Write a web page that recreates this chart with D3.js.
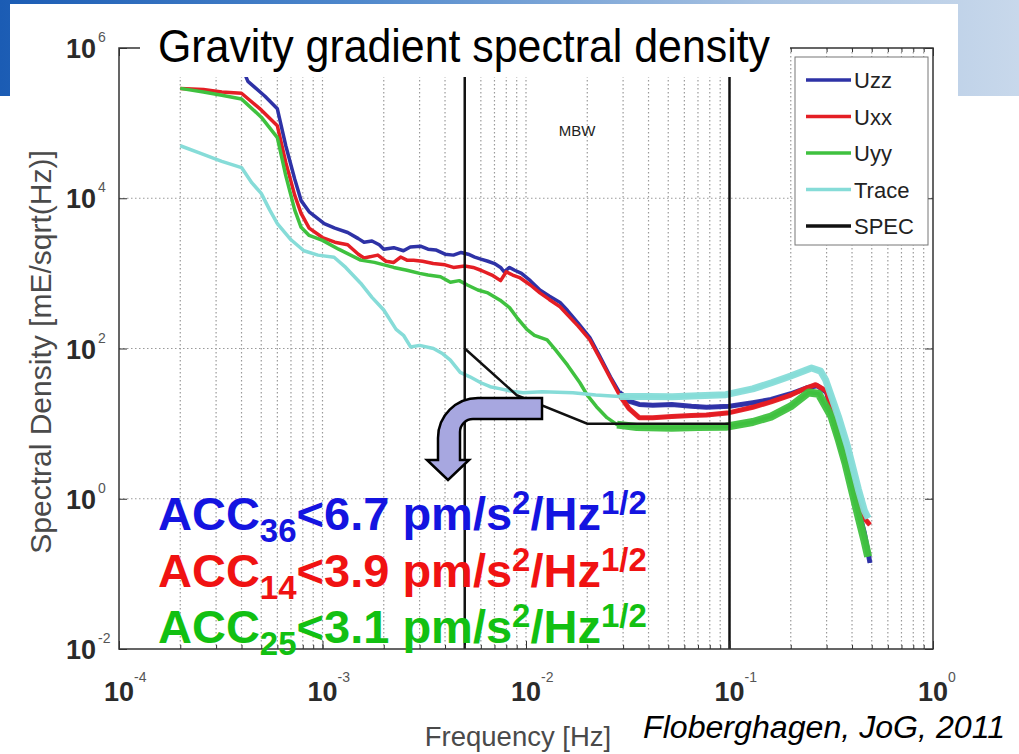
<!DOCTYPE html>
<html>
<head>
<meta charset="utf-8">
<script src="https://cdn.jsdelivr.net/npm/d3@7"></script>
<style>
  body { margin: 0; background: #fff; }
  svg { display: block; }
</style>
</head>
<body>
<svg id="chart" width="1019" height="754"></svg>
<script>
// values: [frequency Hz, spectral density mE/sqrt(Hz)]
const seriesNames = ["Uzz", "Uxx", "Uyy", "Trace", "SPEC"];
const seriesColors = ["#2e32a6", "#e41e24", "#3fc13f", "#86dcd8", "#111111"];

const uzz = [
  [3.9e-4, 6.7e5], [4.3e-4, 3.6e5], [5.2e-4, 2.3e5], [6.0e-4, 1.55e5], [6.6e-4, 5.0e4],
  [7.3e-4, 1.8e4], [7.85e-4, 9.3e3], [8.6e-4, 6.6e3], [1.02e-3, 4.6e3], [1.15e-3, 4.0e3],
  [1.33e-3, 3.5e3], [1.5e-3, 2.9e3], [1.6e-3, 2.6e3], [1.75e-3, 2.7e3], [1.9e-3, 2.4e3],
  [2.0e-3, 2.1e3], [2.24e-3, 2.2e3], [2.5e-3, 2.0e3], [2.7e-3, 2.25e3], [3.03e-3, 2.3e3],
  [3.3e-3, 2.1e3], [3.6e-3, 2.05e3], [4.0e-3, 1.8e3], [4.4e-3, 1.75e3], [4.8e-3, 1.9e3],
  [5.2e-3, 1.8e3], [5.6e-3, 1.65e3], [6.0e-3, 1.55e3], [6.5e-3, 1.45e3], [7.0e-3, 1.35e3],
  [7.5e-3, 1.2e3], [7.8e-3, 1.05e3], [8.3e-3, 1.2e3], [8.8e-3, 1.1e3], [9.5e-3, 1.0e3],
  [1.05e-2, 8.0e2], [1.17e-2, 6.0e2], [1.3e-2, 5.0e2], [1.47e-2, 4.1e2], [1.6e-2, 3.2e2],
  [1.8e-2, 2.2e2], [2.06e-2, 1.4e2], [2.3e-2, 80], [2.6e-2, 42], [2.88e-2, 26],
  [3.2e-2, 20], [3.6e-2, 18], [4.2e-2, 17.5], [5.2e-2, 18], [6.5e-2, 17],
  [7.7e-2, 16.5], [0.1, 17], [0.13, 19], [0.16, 21], [0.2, 25],
  [0.24, 30], [0.27, 32], [0.3, 26], [0.34, 7], [0.38, 2.5],
  [0.42, 0.9], [0.46, 0.35], [0.49, 0.14]
];

const uxx = [
  [2.0e-4, 2.9e5], [2.6e-4, 2.8e5], [3.2e-4, 2.6e5], [4.0e-4, 2.5e5], [5.0e-4, 1.5e5],
  [6.0e-4, 9.2e4], [6.6e-4, 3.0e4], [7.3e-4, 1.1e4], [7.85e-4, 6.3e3], [8.6e-4, 4.0e3],
  [1.0e-3, 3.0e3], [1.15e-3, 2.6e3], [1.33e-3, 2.4e3], [1.5e-3, 1.8e3], [1.6e-3, 1.6e3],
  [1.87e-3, 1.75e3], [2.05e-3, 1.45e3], [2.24e-3, 1.4e3], [2.42e-3, 1.65e3], [2.6e-3, 1.5e3],
  [2.8e-3, 1.5e3], [3.1e-3, 1.45e3], [3.5e-3, 1.35e3], [4.0e-3, 1.3e3], [4.4e-3, 1.2e3],
  [5.0e-3, 1.25e3], [5.5e-3, 1.2e3], [6.0e-3, 1.1e3], [6.8e-3, 9.5e2], [7.5e-3, 8.0e2],
  [8.0e-3, 1.05e3], [8.6e-3, 9.5e2], [9.3e-3, 8.8e2], [1.05e-2, 7.0e2], [1.17e-2, 5.5e2],
  [1.3e-2, 4.5e2], [1.47e-2, 3.6e2], [1.6e-2, 2.8e2], [1.8e-2, 2.0e2], [2.06e-2, 1.3e2],
  [2.3e-2, 75], [2.6e-2, 40], [2.88e-2, 24], [3.2e-2, 16], [3.6e-2, 12],
  [4.2e-2, 12], [5.2e-2, 12.4], [6.5e-2, 12.8], [7.7e-2, 13], [0.1, 14],
  [0.13, 16.5], [0.16, 19.5], [0.2, 24], [0.24, 30], [0.265, 33],
  [0.3, 27], [0.34, 7], [0.38, 2.5], [0.42, 1.0], [0.46, 0.55], [0.49, 0.45]
];

const uyy = [
  [2.0e-4, 2.9e5], [2.6e-4, 2.6e5], [3.2e-4, 2.35e5], [4.0e-4, 2.1e5], [5.0e-4, 1.2e5],
  [6.0e-4, 6.4e4], [6.6e-4, 2.0e4], [7.3e-4, 7.0e3], [7.85e-4, 4.1e3], [8.6e-4, 3.2e3],
  [1.0e-3, 2.75e3], [1.2e-3, 2.1e3], [1.54e-3, 1.5e3], [1.8e-3, 1.4e3], [2.24e-3, 1.2e3],
  [2.6e-3, 1.1e3], [3.0e-3, 1.0e3], [3.3e-3, 9.5e2], [3.8e-3, 9.0e2], [4.25e-3, 7.6e2],
  [4.7e-3, 8.0e2], [5.15e-3, 7.0e2], [5.8e-3, 6.0e2], [6.5e-3, 5.5e2], [7.46e-3, 4.4e2],
  [8.3e-3, 3.5e2], [9.0e-3, 2.6e2], [1.01e-2, 1.8e2], [1.1e-2, 1.5e2], [1.27e-2, 1.3e2],
  [1.4e-2, 95], [1.6e-2, 60], [1.84e-2, 35], [2.0e-2, 24], [2.22e-2, 16.8],
  [2.5e-2, 12], [2.8e-2, 9.7], [3.5e-2, 9.0], [5.2e-2, 8.8], [7.0e-2, 9.0],
  [9.6e-2, 9.1], [0.13, 10.5], [0.16, 12.4], [0.2, 17], [0.245, 26],
  [0.274, 25], [0.317, 12.4], [0.345, 6], [0.371, 3.0], [0.4, 1.3],
  [0.43, 0.58], [0.46, 0.28], [0.48, 0.17]
];

const trace = [
  [2.0e-4, 5.0e4], [2.5e-4, 4.0e4], [3.2e-4, 3.1e4], [4.0e-4, 2.56e4], [4.5e-4, 1.6e4],
  [5.0e-4, 1.16e4], [5.5e-4, 7.0e3], [6.0e-4, 4.6e3], [7.0e-4, 2.8e3], [8.1e-4, 2.0e3],
  [9.5e-4, 1.75e3], [1.14e-3, 1.64e3], [1.3e-3, 1.2e3], [1.54e-3, 7.4e2], [1.75e-3, 4.8e2],
  [2.0e-3, 3.25e2], [2.3e-3, 1.8e2], [2.5e-3, 1.5e2], [2.71e-3, 1.05e2], [3.0e-3, 1.1e2],
  [3.51e-3, 1.0e2], [3.9e-3, 85], [4.25e-3, 70], [4.75e-3, 48], [5.3e-3, 42],
  [6.0e-3, 35], [6.67e-3, 31], [7.5e-3, 29], [8.5e-3, 27], [9.67e-3, 25.8],
  [1.2e-2, 26.5], [1.7e-2, 25.8], [2.2e-2, 24], [2.88e-2, 23], [4.0e-2, 23],
  [5.23e-2, 22.8], [7.0e-2, 23.5], [9.6e-2, 24.3], [0.13, 29], [0.161, 35],
  [0.2, 43], [0.253, 55], [0.28, 50], [0.297, 38], [0.343, 12.4],
  [0.38, 5], [0.43, 1.33], [0.46, 0.7], [0.48, 0.55]
];

const spec = [[5e-3, 100], [9.0e-3, 24], [2.0e-2, 10], [0.1, 10]];

const mbwEdges = [5e-3, 1e-1];
const xTicks = [1e-4, 1e-3, 1e-2, 1e-1, 1];
const xTickExp = ["-4", "-3", "-2", "-1", "0"];
const yTicks = [1e-2, 1e0, 1e2, 1e4, 1e6];
const yTickExp = ["-2", "0", "2", "4", "6"];

const accIds = ["36", "14", "25"];
const accLimits = ["6.7", "3.9", "3.1"];
const accColors = ["#1414e0", "#f01212", "#12c012"];

// ---------------------------------------------------------------
const W = 1019, H = 754;
const svg = d3.select("#chart");
const sans = "'Liberation Sans', Arial, Helvetica, sans-serif";

const x = d3.scaleLog().domain([1e-4, 1]).range([119, 933]);
const y = d3.scaleLog().domain([1e-2, 1e6]).range([649, 48]);
const [x0, x1] = x.range();
const [yb, yt] = y.range();

// slide background: blue header band, white figure on top
const defs = svg.append("defs");
const grad = defs.append("linearGradient").attr("id", "band");
grad.append("stop").attr("offset", "0%").attr("stop-color", "#1b5cb4");
grad.append("stop").attr("offset", "35%").attr("stop-color", "#4f88cc");
grad.append("stop").attr("offset", "75%").attr("stop-color", "#a9c3e2");
grad.append("stop").attr("offset", "100%").attr("stop-color", "#c8d8eb");
defs.append("clipPath").attr("id", "clip")
  .append("rect").attr("x", x0).attr("y", yt).attr("width", x1 - x0).attr("height", yb - yt);

svg.append("rect").attr("width", W).attr("height", 96).attr("fill", "url(#band)");
svg.append("rect").attr("x", 10).attr("y", 4).attr("width", 948).attr("height", H).attr("fill", "#fff");
svg.append("rect").attr("x", 0).attr("y", 96).attr("width", W).attr("height", H - 96).attr("fill", "#fff");

// dotted grid
const grid = svg.append("g").attr("stroke", "#9a9a9a").attr("stroke-width", 1.2)
  .attr("stroke-dasharray", "1.5,2.5");
grid.selectAll("line.v")
  .data(x.ticks().filter(d => d > 1e-4 && d < 1))
  .join("line").attr("class", "v")
  .attr("x1", d => x(d)).attr("x2", d => x(d)).attr("y1", yt).attr("y2", yb);
grid.selectAll("line.h")
  .data(yTicks.filter(d => d > 1e-2 && d < 1e6))
  .join("line").attr("class", "h")
  .attr("x1", x0).attr("x2", x1).attr("y1", d => y(d)).attr("y2", d => y(d));

// curves
const line = d3.line().x(d => x(d[0])).y(d => y(d[1]));
const plot = svg.append("g").attr("clip-path", "url(#clip)");
const curves = [uzz, uxx, uyy, trace];
const noisy = [5, 5, 8, 7]; // thicker stroke where the spectra are noisy
curves.forEach((c, i) => {
  plot.append("path").attr("d", line(c))
    .attr("fill", "none").attr("stroke", seriesColors[i])
    .attr("stroke-width", 3.5).attr("stroke-linejoin", "round");
  plot.append("path").attr("d", line(c.filter(d => d[0] >= 0.028)))
    .attr("fill", "none").attr("stroke", seriesColors[i])
    .attr("stroke-width", noisy[i]).attr("stroke-linejoin", "round").attr("opacity", 0.95);
});
plot.append("path").attr("d", line(spec))
  .attr("fill", "none").attr("stroke", seriesColors[4]).attr("stroke-width", 2.5);

// measurement bandwidth
plot.selectAll("line.mbw").data(mbwEdges).join("line").attr("class", "mbw")
  .attr("x1", d => x(d)).attr("x2", d => x(d)).attr("y1", yt).attr("y2", yb)
  .attr("stroke", "#111").attr("stroke-width", 2.5);
svg.append("text").attr("x", 577).attr("y", 136).attr("text-anchor", "middle")
  .attr("font-family", sans).attr("font-size", 15).attr("fill", "#222").text("MBW");

// axes: ticks point inwards
function ticksOn(axis, pos, values, size) {
  const g = svg.append("g").attr("transform", pos)
    .call(axis.tickValues(values).tickSize(size).tickFormat(""));
  g.select(".domain").remove();
  g.selectAll("line").attr("stroke", "#333");
}
const minor = x.ticks();
ticksOn(d3.axisBottom(x), `translate(0,${yb})`, minor, -4);
ticksOn(d3.axisBottom(x), `translate(0,${yb})`, xTicks, -8);
ticksOn(d3.axisTop(x), `translate(0,${yt})`, minor, -4);
ticksOn(d3.axisTop(x), `translate(0,${yt})`, xTicks, -8);
ticksOn(d3.axisLeft(y), `translate(${x0},0)`, yTicks, -8);
ticksOn(d3.axisRight(y), `translate(${x1},0)`, yTicks, -8);
svg.append("rect").attr("x", x0).attr("y", yt).attr("width", x1 - x0).attr("height", yb - yt)
  .attr("fill", "none").attr("stroke", "#333").attr("stroke-width", 1.5);

// tick labels 10^n
const xl = svg.append("g").attr("font-family", sans).attr("fill", "#2a2a2a");
xTicks.forEach((t, i) => {
  xl.append("text").attr("x", x(t)).attr("y", 701).attr("text-anchor", "middle")
    .attr("font-size", 27).attr("font-weight", "bold").text("10");
  xl.append("text").attr("x", x(t) + 15).attr("y", 682)
    .attr("font-size", 14).attr("fill", "#555").text(xTickExp[i]);
});
yTicks.forEach((t, i) => {
  xl.append("text").attr("x", 96).attr("y", y(t) + 10).attr("text-anchor", "end")
    .attr("font-size", 27).attr("font-weight", "bold").text("10");
  xl.append("text").attr("x", 98).attr("y", y(t) - 6)
    .attr("font-size", 14).attr("fill", "#555").text(yTickExp[i]);
});

// axis titles
svg.append("text").attr("x", 518).attr("y", 746).attr("text-anchor", "middle")
  .attr("font-family", sans).attr("font-size", 27.5).attr("fill", "#4a4a4a")
  .text("Frequency [Hz]");
svg.append("text").attr("transform", "translate(51,352) rotate(-90)").attr("text-anchor", "middle")
  .attr("font-family", sans).attr("font-size", 30).attr("fill", "#4a4a4a")
  .text("Spectral Density [mE/sqrt(Hz)]");

// title on white box over top axis
svg.append("rect").attr("x", 140).attr("y", 10).attr("width", 650).attr("height", 67).attr("fill", "#fff");
svg.append("text").attr("x", 158).attr("y", 62)
  .attr("font-family", sans).attr("font-size", 46).attr("fill", "#000")
  .attr("textLength", 612).attr("lengthAdjust", "spacingAndGlyphs")
  .text("Gravity gradient spectral density");

// legend
const lg = svg.append("g").attr("font-family", sans);
lg.append("rect").attr("x", 795).attr("y", 57).attr("width", 133).attr("height", 188)
  .attr("fill", "#fff").attr("stroke", "#777").attr("stroke-width", 1);
seriesNames.forEach((n, i) => {
  const ly = 80 + i * 36.5;
  lg.append("line").attr("x1", 806).attr("x2", 851).attr("y1", ly).attr("y2", ly)
    .attr("stroke", seriesColors[i]).attr("stroke-width", 3.5);
  lg.append("text").attr("x", 854).attr("y", ly + 8).attr("font-size", 22)
    .attr("fill", "#222").text(n);
});

// bent arrow
svg.append("path")
  .attr("d", "M542,398 L478,398 A40,40 0 0 0 438,438 L438,460 L427,460 L448,480 L469,460 L460,460 L460,432 A13,13 0 0 1 473,419 L542,419 Z")
  .attr("fill", "#a7a7e0").attr("stroke", "#000").attr("stroke-width", 2.5)
  .attr("stroke-linejoin", "miter");

// accelerometer noise annotations
accIds.forEach((id, i) => {
  const t = svg.append("text").attr("x", 158).attr("y", 530 + i * 56.5)
    .attr("font-family", sans).attr("font-weight", "bold").attr("font-size", 47)
    .attr("fill", accColors[i]);
  t.append("tspan").text("ACC");
  t.append("tspan").attr("font-size", 33).attr("dy", 12).text(id);
  t.append("tspan").attr("dy", -12).text("<" + accLimits[i] + " pm/s");
  t.append("tspan").attr("font-size", 33).attr("dy", -16).text("2");
  t.append("tspan").attr("dy", 16).text("/Hz");
  t.append("tspan").attr("font-size", 33).attr("dy", -16).text("1/2");
});

// citation
svg.append("text").attr("x", 643).attr("y", 738)
  .attr("font-family", sans).attr("font-style", "italic").attr("font-size", 31)
  .attr("textLength", 362).attr("lengthAdjust", "spacingAndGlyphs")
  .attr("fill", "#000").text("Floberghagen, JoG, 2011");
</script>
</body>
</html>
